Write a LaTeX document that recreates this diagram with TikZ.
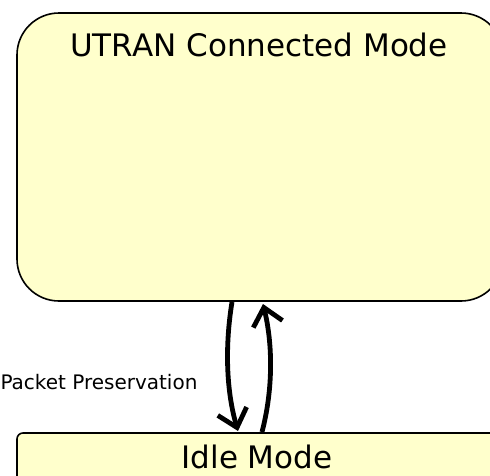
\documentclass[tikz,border=0pt]{standalone}
\usepackage{fontspec}
\setmainfont{DejaVu Sans}
\usetikzlibrary{arrows.meta}
\definecolor{statefill}{HTML}{FFFFCC}
\begin{document}
\begin{tikzpicture}[x=1pt,y=-1pt,
  statebox/.style={draw=black,line width=1.6pt,fill=statefill},
  trans/.style={line width=4.8pt,-{Straight Barb[length=17pt,width=30pt,line width=4.8pt]}}]
\useasboundingbox (0,0) rectangle (490,475);
% UTRAN connected state
\draw[statebox,rounded corners=42pt] (17,13) rectangle (503,301);
\node[font=\fontsize{31}{36}\selectfont,anchor=base] (conn) at (259,56) {UTRAN Connected Mode};
% idle state
\draw[statebox,rounded corners=6pt] (17,433) rectangle (520,520);
\node[font=\fontsize{31}{36}\selectfont,anchor=base] (idle) at (257,468) {Idle Mode};
% transitions
\coordinate (d1) at (232,302);
\coordinate (d2) at (238,431);
\coordinate (u1) at (262,432);
\coordinate (u2) at (263,304);
\draw[trans] (d1) .. controls (225,345) and (226,390) .. (d2);
\draw[trans] (u1) .. controls (273,390) and (273,345) .. (u2);
\node[font=\fontsize{20}{24}\selectfont,anchor=base east] (pp) at (201,389) {Packet Preservation};
\end{tikzpicture}
\end{document}
